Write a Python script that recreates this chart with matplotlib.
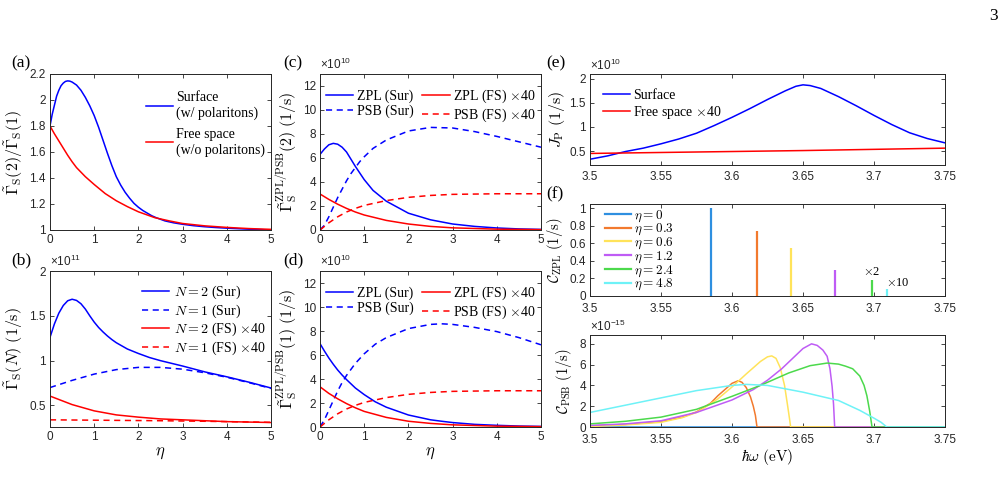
import matplotlib
matplotlib.use("Agg")
import matplotlib.pyplot as plt
from matplotlib.ticker import FormatStrFormatter

# ---------------- data ----------------
eta_a = [0, 0.05, 0.1, 0.15, 0.2, 0.25, 0.3, 0.35, 0.4, 0.45, 0.5, 0.6, 0.7, 0.8, 0.9, 1.0,
         1.1, 1.2, 1.3, 1.4, 1.5, 1.6, 1.7, 1.8, 1.9, 2.0, 2.1, 2.2, 2.3, 2.4, 2.6, 2.8, 3.0,
         3.25, 3.5, 3.75, 4.0, 4.5, 5.0]
ratio_sur = [1.80, 1.89, 1.96, 2.03, 2.075, 2.11, 2.13, 2.143, 2.147, 2.145, 2.138, 2.115,
             2.075, 2.02, 1.955, 1.88, 1.79, 1.69, 1.59, 1.495, 1.41, 1.345, 1.29, 1.245,
             1.205, 1.175, 1.15, 1.13, 1.11, 1.095, 1.07, 1.055, 1.044, 1.033, 1.025, 1.019,
             1.014, 1.006, 1.0]
eta_fs = [0, 0.1, 0.2, 0.3, 0.4, 0.5, 0.6, 0.8, 1.0, 1.25, 1.5, 1.75, 2.0, 2.37, 2.7, 3.0,
          3.5, 4.0, 4.5, 5.0]
ratio_fs = [1.80, 1.74, 1.685, 1.63, 1.575, 1.525, 1.48, 1.41, 1.35, 1.28, 1.225, 1.18, 1.14,
            1.095, 1.07, 1.05, 1.032, 1.02, 1.011, 1.005]

eta_b = [0, 0.1, 0.2, 0.3, 0.4, 0.5, 0.6, 0.7, 0.8, 0.9, 1.0, 1.1, 1.2, 1.3, 1.4, 1.5, 1.75,
         2.0, 2.25, 2.5, 3.0, 3.5, 4.0, 4.5, 5.0]
g2_sur = [1.26, 1.41, 1.53, 1.615, 1.668, 1.685, 1.672, 1.635, 1.575, 1.50, 1.43, 1.37,
          1.32, 1.275, 1.235, 1.20, 1.13, 1.08, 1.035, 1.0, 0.94, 0.875, 0.82, 0.76, 0.695]
eta_b2 = [0, 0.5, 1.0, 1.5, 2.0, 2.5, 3.0, 3.5, 4.0, 4.5, 5.0]
g1_sur = [0.70, 0.78, 0.85, 0.90, 0.925, 0.925, 0.905, 0.865, 0.815, 0.755, 0.69]
g2_fs = [0.605, 0.51, 0.44, 0.395, 0.37, 0.35, 0.34, 0.33, 0.32, 0.315, 0.31]
g1_fs = [0.34, 0.338, 0.336, 0.334, 0.332, 0.33, 0.327, 0.324, 0.32, 0.316, 0.312]

eta_c = [0, 0.1, 0.2, 0.3, 0.4, 0.5, 0.6, 0.7, 0.8, 0.9, 1.0, 1.2, 1.5, 2.0, 2.5, 3.0,
         3.5, 4.0, 4.5, 5.0]
zpl2_sur = [6.3, 6.75, 7.1, 7.22, 7.15, 6.9, 6.5, 5.9, 5.3, 4.75, 4.2, 3.3, 2.4, 1.4, 0.85,
            0.5, 0.3, 0.17, 0.09, 0.05]
psb2_sur = [0, 0.4, 1.1, 1.9, 2.7, 3.4, 4.1, 4.7, 5.2, 5.7, 6.1, 6.8, 7.5, 8.25, 8.55, 8.5,
            8.2, 7.8, 7.35, 6.9]
eta_f = [0, 0.2, 0.4, 0.6, 0.8, 1.0, 1.5, 2.0, 2.5, 3.0, 4.0, 5.0]
zpl2_fs = [3.0, 2.55, 2.15, 1.8, 1.5, 1.25, 0.8, 0.5, 0.3, 0.18, 0.07, 0.03]
psb_fs = [0, 0.6, 1.1, 1.5, 1.8, 2.05, 2.45, 2.72, 2.88, 2.97, 3.02, 3.02]

eta_d = [0, 0.1, 0.2, 0.3, 0.4, 0.5, 0.6, 0.8, 1.0, 1.25, 1.5, 2.0, 2.5, 2.75, 3.0, 3.5,
         4.0, 4.5, 5.0]
zpl1_sur = [6.95, 6.33, 5.75, 5.23, 4.75, 4.33, 3.95, 3.25, 2.7, 2.1, 1.65, 1.0, 0.6, 0.48,
            0.37, 0.22, 0.14, 0.08, 0.05]
psb1_sur = [0, 0.6, 1.4, 2.2, 3.0, 3.7, 4.3, 5.3, 6.1, 6.9, 7.45, 8.2, 8.55, 8.6, 8.55, 8.3,
            7.95, 7.45, 6.85]
zpl1_fs = [3.35, 2.8, 2.35, 1.95, 1.6, 1.3, 0.8, 0.48, 0.3, 0.18, 0.07, 0.03]

E_e = [3.5, 3.5125, 3.525, 3.5375, 3.55, 3.5625, 3.575, 3.5875, 3.6, 3.6125, 3.625, 3.6375,
       3.645, 3.65, 3.655, 3.6625, 3.675, 3.6875, 3.7, 3.7125, 3.725, 3.7375, 3.75]
jp_sur = [0.33, 0.40, 0.49, 0.56, 0.65, 0.75, 0.87, 1.03, 1.2, 1.38, 1.57, 1.75, 1.845, 1.875,
          1.86, 1.80, 1.63, 1.44, 1.24, 1.05, 0.88, 0.76, 0.67]
E_e2 = [3.5, 3.55, 3.6, 3.65, 3.7, 3.75]
jp_fs = [0.45, 0.47, 0.49, 0.51, 0.535, 0.56]

etas = ["0", "0.3", "0.6", "1.2", "2.4", "4.8"]
colors = ["#2E8FE0", "#F27A2E", "#FFE35A", "#BF5CF5", "#4CD94C", "#6EF2F7"]
zpl_pos = [3.5852, 3.6176, 3.6413, 3.6723, 3.6986, 3.7089]
zpl_amp = [1.0, 0.74, 0.55, 0.30, 0.18, 0.08]

psb_E = [
    [3.5, 3.75],
    [3.5, 3.525, 3.55, 3.565, 3.575, 3.585, 3.59, 3.595, 3.6, 3.6044, 3.607, 3.61, 3.613,
     3.615, 3.6165, 3.6176, 3.75],
    [3.5, 3.525, 3.55, 3.565, 3.575, 3.58, 3.59, 3.6, 3.61, 3.62, 3.625, 3.628, 3.631,
     3.634, 3.637, 3.639, 3.6405, 3.6413, 3.75],
    [3.5, 3.525, 3.55, 3.575, 3.6, 3.615, 3.625, 3.635, 3.645, 3.65, 3.656, 3.66, 3.664,
     3.667, 3.669, 3.6705, 3.6715, 3.6723, 3.75],
    [3.5, 3.525, 3.55, 3.575, 3.6, 3.62, 3.64, 3.655, 3.667, 3.675, 3.68, 3.685, 3.69,
     3.693, 3.695, 3.697, 3.6986, 3.75],
    [3.5, 3.525, 3.55, 3.575, 3.6, 3.61, 3.625, 3.65, 3.675, 3.69, 3.7, 3.705, 3.709, 3.75],
]
psb_C = [
    [0, 0],
    [0.1, 0.25, 0.52, 0.95, 1.45, 2.3, 3.0, 3.6, 4.2, 4.45, 4.3, 3.8, 2.9, 2.0, 1.1, 0, 0],
    [0.05, 0.2, 0.45, 0.9, 1.4, 1.8, 2.7, 3.85, 5.1, 6.3, 6.75, 6.84, 6.6, 5.7, 4.0, 2.2,
     0.8, 0, 0],
    [0.15, 0.3, 0.6, 1.4, 2.6, 3.6, 4.5, 5.6, 6.9, 7.55, 8.0, 7.85, 7.4, 6.8, 5.6, 3.9, 2.2,
     0, 0],
    [0.3, 0.55, 0.95, 1.7, 2.95, 4.0, 5.2, 5.9, 6.15, 6.05, 5.85, 5.6, 4.9, 4.0, 3.0, 1.5,
     0, 0],
    [1.4, 2.1, 2.8, 3.5, 4.0, 4.1, 4.0, 3.35, 2.55, 1.6, 0.85, 0.45, 0, 0],
]

# ---------------- style ----------------
plt.rcParams['font.family'] = ['Liberation Sans', 'DejaVu Sans']
plt.rcParams['mathtext.fontset'] = 'cm'
SERIF = 'Liberation Serif'
AX_COL = '#262626'
W, H = 1006, 497
LEG_FS = 10
YL_FS = 11.5

fig = plt.figure(figsize=(W / 100, H / 100), dpi=100)


def rect(l, t, r, b):
    return [l / W, 1 - b / H, (r - l) / W, (b - t) / H]


def style(ax, xpad=3):
    ax.tick_params(direction='in', top=True, right=True, length=3, width=0.6,
                   labelsize=8.5, colors=AX_COL, pad=3)
    ax.tick_params(axis='x', pad=xpad)
    for s in ax.spines.values():
        s.set_linewidth(0.7)
        s.set_color(AX_COL)


def expo(ax, txt):
    ax.text(0.0, 1.015, r'$\mathregular{\times10^{%s}}$' % txt, transform=ax.transAxes,
            fontsize=8.5, color=AX_COL, ha='left', va='bottom')


def leg(ax, size=LEG_FS, **kw):
    return ax.legend(frameon=False, prop={'family': SERIF, 'size': size}, **kw)


BLUE = '#0000FF'
RED = '#FF0000'
LW = 1.1
DASH = (0, (4, 3))

# (a)
ax = fig.add_axes(rect(50, 74, 271, 230))
ax.plot(eta_a, ratio_sur, color=BLUE, lw=LW, label='Surface\n(w/ polaritons)')
ax.plot(eta_fs, ratio_fs, color=RED, lw=LW, label='Free space\n(w/o polaritons)')
ax.set_xlim(0, 5)
ax.set_ylim(1, 2.2)
ax.set_yticks([1, 1.2, 1.4, 1.6, 1.8, 2.0, 2.2])
ax.yaxis.set_major_formatter(FormatStrFormatter('%g'))
ax.set_ylabel(r'$\tilde{\Gamma}_{\rm S}(2)/\tilde{\Gamma}_{\rm S}(1)$', fontsize=YL_FS, labelpad=3)
style(ax)
leg(ax, loc='upper right', bbox_to_anchor=(1.03, 0.97), handlelength=2.0, labelspacing=0.6,
    handletextpad=0.2)

# (b)
ax = fig.add_axes(rect(50, 271, 271, 427))
ax.plot(eta_b, g2_sur, color=BLUE, lw=LW, label=r'$N=2$ (Sur)')
ax.plot(eta_b2, g1_sur, color=BLUE, lw=LW, ls=DASH, label=r'$N=1$ (Sur)')
ax.plot(eta_b2, g2_fs, color=RED, lw=LW, label=r'$N=2$ (FS) $\times$40')
ax.plot(eta_b2, g1_fs, color=RED, lw=LW, ls=DASH, label=r'$N=1$ (FS) $\times$40')
ax.set_xlim(0, 5)
ax.set_ylim(0.26, 2)
ax.set_yticks([0.5, 1, 1.5, 2])
ax.yaxis.set_major_formatter(FormatStrFormatter('%g'))
ax.set_ylabel(r'$\tilde{\Gamma}_{\rm S}(N)\ \mathrm{(1/s)}$', fontsize=YL_FS, labelpad=3)
ax.set_xlabel(r'$\eta$', fontsize=12, labelpad=2)
style(ax)
expo(ax, '11')
leg(ax, loc='upper right', bbox_to_anchor=(1.03, 1.0), handlelength=2.0, labelspacing=0.1,
    handletextpad=0.3)


def panel_cd(top, bottom, zs, ps, zf, eta_z, label, xlabel):
    ax = fig.add_axes(rect(320, top, 541, bottom))
    ax.plot(eta_z, zs, color=BLUE, lw=LW, label='ZPL (Sur)')
    ax.plot(eta_z, ps, color=BLUE, lw=LW, ls=DASH, label='PSB (Sur)')
    ax.plot(eta_f, zf, color=RED, lw=LW, label=r'ZPL (FS) $\times$40')
    ax.plot(eta_f, psb_fs, color=RED, lw=LW, ls=DASH, label=r'PSB (FS) $\times$40')
    ax.set_xlim(0, 5)
    ax.set_ylim(0, 13)
    ax.set_yticks([0, 2, 4, 6, 8, 10, 12])
    ax.set_ylabel(label, fontsize=YL_FS, labelpad=2)
    if xlabel:
        ax.set_xlabel(r'$\eta$', fontsize=12, labelpad=2)
    style(ax)
    expo(ax, '10')
    leg(ax, loc='upper center', bbox_to_anchor=(0.5, 0.99), ncol=2, handlelength=2.0,
        labelspacing=0.1, handletextpad=0.25, columnspacing=0.6)
    return ax


panel_cd(74, 230, zpl2_sur, psb2_sur, zpl2_fs, eta_c,
         r'$\tilde{\Gamma}_{\rm S}^{\rm ZPL/PSB}(2)\ \mathrm{(1/s)}$', False)
panel_cd(271, 427, zpl1_sur, psb1_sur, zpl1_fs, eta_d,
         r'$\tilde{\Gamma}_{\rm S}^{\rm ZPL/PSB}(1)\ \mathrm{(1/s)}$', True)

# (e)
ax = fig.add_axes(rect(590, 74, 945, 165))
ax.plot(E_e, jp_sur, color=BLUE, lw=LW, label='Surface')
ax.plot(E_e2, jp_fs, color=RED, lw=LW, label=r'Free space $\times$40')
ax.set_xlim(3.5, 3.75)
ax.set_ylim(0.21, 2.1)
ax.set_yticks([0.5, 1, 1.5, 2])
ax.set_xticks([3.5, 3.55, 3.6, 3.65, 3.7, 3.75])
ax.yaxis.set_major_formatter(FormatStrFormatter('%g'))
ax.xaxis.set_major_formatter(FormatStrFormatter('%g'))
ax.set_ylabel(r'$J_{\rm P}\ \mathrm{(1/s)}$', fontsize=YL_FS, labelpad=2)
style(ax, xpad=4.5)
expo(ax, '10')
leg(ax, loc='upper left', bbox_to_anchor=(0.0, 0.97), handlelength=2.0, labelspacing=0.15,
    handletextpad=0.2)

# (f) ZPL
ax = fig.add_axes(rect(590, 204, 945, 296))
for e, x0, a, c in zip(etas, zpl_pos, zpl_amp, colors):
    ax.vlines(x0, 0, a, color=c, lw=1.6)
    ax.plot([], [], color=c, lw=1.6, label=r'$\eta = %s$' % e)
ax.text(3.6986, 0.21, r'$\times$2', fontsize=9, family=SERIF, ha='center', va='bottom')
ax.text(3.7085, 0.085, r'$\times$10', fontsize=9, family=SERIF, ha='left', va='bottom')
ax.set_xlim(3.5, 3.75)
ax.set_ylim(0, 1.05)
ax.set_yticks([0, 0.2, 0.4, 0.6, 0.8, 1])
ax.set_xticks([3.5, 3.55, 3.6, 3.65, 3.7, 3.75])
ax.yaxis.set_major_formatter(FormatStrFormatter('%g'))
ax.xaxis.set_major_formatter(FormatStrFormatter('%g'))
ax.set_ylabel(r'$\mathcal{C}_{\rm ZPL}\ \mathrm{(1/s)}$', fontsize=10.5, labelpad=3)
style(ax, xpad=5)
leg(ax, size=9.5, loc='upper left', bbox_to_anchor=(0.02, 1.04), handlelength=2.0,
    labelspacing=-0.12, handletextpad=0.2, borderpad=0.1)

# (f) PSB
ax = fig.add_axes(rect(590, 335, 945, 427))
for Es, Cs, c in zip(psb_E, psb_C, colors):
    ax.plot(Es, Cs, color=c, lw=1.1)
ax.set_xlim(3.5, 3.75)
ax.set_ylim(0, 8.85)
ax.set_yticks([0, 2, 4, 6, 8])
ax.set_xticks([3.5, 3.55, 3.6, 3.65, 3.7, 3.75])
ax.xaxis.set_major_formatter(FormatStrFormatter('%g'))
ax.set_ylabel(r'$\mathcal{C}_{\rm PSB}\ \mathrm{(1/s)}$', fontsize=10.5, labelpad=4)
ax.set_xlabel(r'$\hbar\omega\ \mathrm{(eV)}$', fontsize=11, labelpad=1)
style(ax, xpad=5)
expo(ax, '-15')

# panel labels
for lab, x, y in [('(a)', 11, 63), ('(b)', 11, 260), ('(c)', 283, 63), ('(d)', 283, 260),
                  ('(e)', 546, 63), ('(f)', 546, 194)]:
    fig.text(x / W, 1 - y / H, lab, fontsize=12.5, family=SERIF, va='center', ha='left')
fig.text(994 / W, 1 - 16 / H, '3', fontsize=12.5, family=SERIF, va='center', ha='center')

fig.savefig('out.png', dpi=100)
